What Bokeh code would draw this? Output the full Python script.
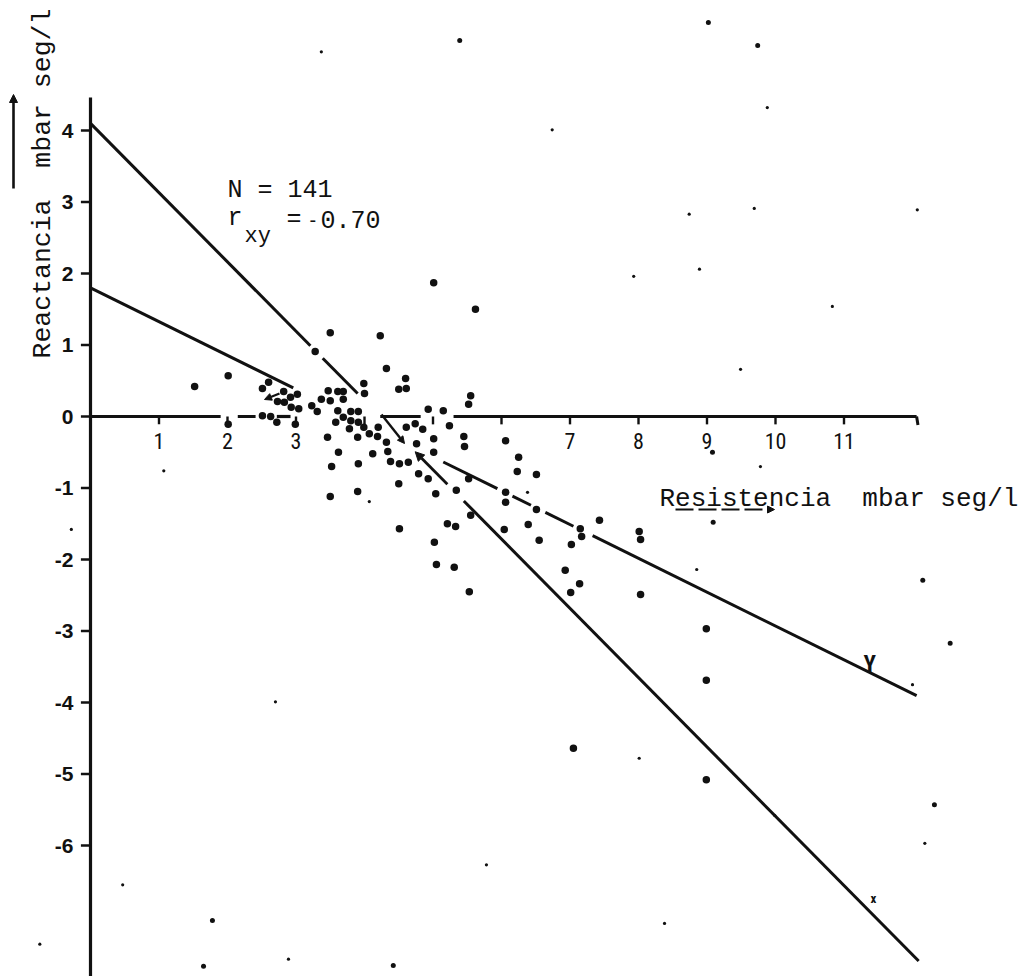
import numpy as np
from bokeh.plotting import figure
from bokeh.models import Range1d, Arrow, NormalHead
from bokeh.core.properties import value
from bokeh.embed import file_html
from bokeh.resources import INLINE

# ---------------- data ----------------
# Resistencia (x) / Reactancia (y), mbar seg/l
res_large = [5.01, 5.62, 3.50, 3.28, 4.23, 4.32, 4.60, 4.50, 4.61, 2.01, 1.52, 3.99, 4.00,
             2.60, 2.51, 2.82, 3.02, 3.47, 3.61, 3.69, 2.73, 2.83, 2.92, 3.37, 3.50, 3.69,
             2.93, 3.04, 3.23, 3.31, 3.61, 3.80, 3.91, 2.51, 2.63, 2.72, 2.01, 2.99, 3.58,
             3.69, 3.80, 3.91, 3.78, 3.99, 4.07, 3.90, 3.46, 3.62, 4.12, 3.52, 3.91, 5.52,
             5.55, 4.93, 5.15, 4.20, 4.19, 4.61, 4.74, 4.85, 5.24, 5.01, 4.32, 4.76, 5.45,
             5.46, 6.06, 4.34, 4.38, 4.51, 4.64, 5.01, 4.79, 4.93, 6.25, 6.23, 6.51, 4.50,
             5.04, 5.34, 3.90, 3.50, 5.52, 6.06, 6.06, 6.51, 5.55, 5.21, 5.33, 6.04, 6.39,
             6.55, 7.15, 7.17, 7.02, 7.43, 4.51, 5.02, 5.05, 5.31, 5.53, 6.93, 7.14, 7.01,
             8.01, 8.03, 8.03, 8.99, 8.99, 7.05, 8.99]
rea_large = [1.87, 1.50, 1.17, 0.91, 1.13, 0.67, 0.53, 0.38, 0.39, 0.57, 0.42, 0.46, 0.32,
             0.48, 0.39, 0.35, 0.31, 0.36, 0.35, 0.35, 0.21, 0.20, 0.27, 0.24, 0.22, 0.24,
             0.13, 0.11, 0.15, 0.07, 0.08, 0.07, 0.07, 0.01, 0.00, -0.08, -0.11, -0.11, -0.08,
             -0.01, -0.06, -0.08, -0.17, -0.15, -0.24, -0.29, -0.29, -0.50, -0.52, -0.70, -0.66, 0.17,
             0.29, 0.10, 0.08, -0.15, -0.28, -0.15, -0.10, -0.18, -0.13, -0.31, -0.36, -0.38, -0.28,
             -0.42, -0.34, -0.49, -0.63, -0.66, -0.64, -0.50, -0.80, -0.87, -0.57, -0.77, -0.81, -0.94,
             -1.08, -1.03, -1.05, -1.12, -0.87, -1.06, -1.20, -1.30, -1.38, -1.50, -1.54, -1.58, -1.51,
             -1.73, -1.57, -1.68, -1.79, -1.45, -1.57, -1.76, -2.07, -2.11, -2.45, -2.15, -2.34, -2.46,
             -1.61, -1.72, -2.49, -2.97, -3.69, -4.64, -5.08]

res_medium = [9.09, 9.08, 12.15, 12.55, 12.32, 1.65, 4.42, 1.78, 5.39, 9.02, 9.74]
rea_medium = [-1.48, -0.50, -2.29, -3.17, -5.43, -7.69, -7.68, -7.05, 5.26, 5.51, 5.19]

res_small = [6.38, 4.07, 8.85, 9.78, 9.49, 9.99, 0.47, 2.89, 5.78, 2.70, 8.01, 8.38, 12.00,
             12.18, -0.74, -0.28, 1.07, 3.37, 9.88, 8.74, 12.07, 7.93, 8.89, 10.83, 6.74, 9.69]
rea_small = [-1.06, -1.19, -2.14, -0.70, 0.66, -5.58, -6.55, -7.59, -6.27, -3.99, -4.78, -7.09, -3.75,
             -5.97, -7.38, -1.58, -0.76, 5.10, 4.32, 2.83, 2.89, 1.96, 2.06, 1.54, 4.01, 2.91]

# regression lines
reg_y_intercept, reg_y_slope = 1.80, -0.473   # Reactancia on Resistencia  ("y")
reg_x_intercept, reg_x_slope = 4.10, -0.969   # Resistencia on Reactancia  ("x")

n_obs = "N = 141"
r_value = "0.70"

x_ticks = [1, 2, 3, 4, 5, 6, 7, 8, 9, 10, 11]
x_tick_labels = ["1", "2", "3", "", "", "", "7", "8", "9", "10", "11"]
y_ticks = [4, 3, 2, 1, 0, -1, -2, -3, -4, -5, -6]
y_tick_labels = ["4", "3", "2", "1", "0", "-1", "-2", "-3", "-4", "-5", "-6"]

NB = "\u00a0"  # keeps the double space visible in SVG text
x_title = "Resistencia" + NB + " mbar seg/l"
y_title = "Reactancia" + NB + " mbar seg/l"

# ---------------- layout helpers (pixel -> data) ----------------
X0, SX = 90.0, 68.5
Y0, SY = 416.0, 71.5
W, H = 1021, 976


def dx(px):
    return (px - X0) / SX


def dy(py):
    return (Y0 - py) / SY


INK = "#111111"
MONO = value("Liberation Mono")
NARROW = value("'Liberation Sans Narrow', 'Roboto Condensed', 'DejaVu Sans Condensed', Roboto")
SANS = value("Liberation Sans")

p = figure(width=W, height=H, output_backend="svg", toolbar_location=None,
           x_range=Range1d(dx(0), dx(W)), y_range=Range1d(dy(H), dy(0)),
           x_axis_location=None, y_axis_location=None, min_border=0,
           outline_line_color=None, background_fill_color="white",
           border_fill_color="white")
p.grid.visible = False

# ---------------- axes drawn by hand (like the original) ----------------
# vertical axis
p.segment(x0=[0], y0=[dy(H) - 0.1], x1=[0], y1=[dy(97)], line_width=3.2, line_color=INK)
p.segment(x0=[-0.14] * len(y_ticks), y0=y_ticks, x1=[0] * len(y_ticks), y1=y_ticks,
          line_width=2.4, line_color=INK)
p.text(x=[dx(73)] * len(y_ticks), y=y_ticks, text=y_tick_labels, text_font=SANS,
       text_font_style="bold", text_font_size="21px", text_align="right",
       text_baseline="middle", text_color=INK)

# horizontal axis (broken where the cloud of points lies)
axis_pieces = [(0.0, 1.90), (2.15, 2.41), (2.72, 2.92), (4.23, 4.82), (5.30, 12.06)]
p.multi_line(xs=[[a, b] for a, b in axis_pieces], ys=[[0, 0] for _ in axis_pieces],
             line_width=3.2, line_color=INK)
p.segment(x0=[12.06], y0=[0], x1=[12.08], y1=[-0.12], line_width=3, line_color=INK)
p.segment(x0=x_ticks, y0=[0] * len(x_ticks), x1=x_ticks, y1=[-0.11] * len(x_ticks),
          line_width=2.4, line_color=INK)
p.text(x=x_ticks, y=[dy(432)] * len(x_ticks), text=x_tick_labels, text_font=NARROW,
       text_font_size="22px", text_align="center", text_baseline="top", text_color=INK)

# ---------------- regression lines ----------------
steep_pieces = [(0.0, 3.21), (3.39, 3.90), (5.45, 12.09)]
shallow_pieces = [(0.0, 2.96), (5.15, 5.94), (6.16, 6.43), (6.64, 7.05), (7.33, 12.06)]
p.multi_line(xs=[[a, b] for a, b in steep_pieces],
             ys=[[reg_x_intercept + reg_x_slope * a, reg_x_intercept + reg_x_slope * b]
                 for a, b in steep_pieces], line_width=3, line_color=INK)
p.multi_line(xs=[[a, b] for a, b in shallow_pieces],
             ys=[[reg_y_intercept + reg_y_slope * a, reg_y_intercept + reg_y_slope * b]
                 for a, b in shallow_pieces], line_width=3, line_color=INK)
# arrowed piece of the steep line
p.add_layout(Arrow(x_start=5.21, y_start=reg_x_intercept + reg_x_slope * 5.21,
                   x_end=4.74, y_end=reg_x_intercept + reg_x_slope * 4.74,
                   line_width=2.8, line_color=INK,
                   end=NormalHead(size=9, fill_color=INK, line_color=INK)))
# small hand-drawn arrows in the cloud
p.add_layout(Arrow(x_start=dx(381), y_start=dy(414), x_end=dx(404), y_end=dy(443),
                   line_width=2.4, line_color=INK,
                   end=NormalHead(size=7, fill_color=INK, line_color=INK)))
p.add_layout(Arrow(x_start=dx(279), y_start=dy(393), x_end=dx(264), y_end=dy(399),
                   line_width=2.4, line_color=INK,
                   end=NormalHead(size=7, fill_color=INK, line_color=INK)))

# ---------------- points ----------------
p.scatter(res_large, rea_large, size=7.5, marker="circle", fill_color=INK, line_color=None)
p.scatter(res_medium, rea_medium, size=5, marker="circle", fill_color=INK, line_color=None)
p.scatter(res_small, rea_small, size=3.2, marker="circle", fill_color=INK, line_color=None)

# ---------------- line labels ----------------
p.text(x=[dx(863)], y=[dy(664)], text=["Y"], text_font=NARROW, text_font_size="23px",
       text_font_style="bold", text_align="left", text_baseline="alphabetic", text_color=INK)
p.text(x=[dx(870)], y=[dy(898)], text=["x"], text_font=NARROW, text_font_size="13px",
       text_font_style="bold", text_align="left", text_baseline="alphabetic", text_color=INK)

# ---------------- statistics ----------------
p.text(x=[dx(227)], y=[dy(190)], text=[n_obs], text_font=MONO, text_font_size="25px",
       text_align="left", text_baseline="alphabetic", text_color=INK)
p.text(x=[dx(227)], y=[dy(218)], text=["r"], text_font=MONO, text_font_size="25px",
       text_align="left", text_baseline="alphabetic", text_color=INK)
p.text(x=[dx(244)], y=[dy(236)], text=["xy"], text_font=MONO, text_font_size="22px",
       text_align="left", text_baseline="alphabetic", text_color=INK)
p.text(x=[dx(286)], y=[dy(219)], text=["="], text_font=MONO, text_font_size="25px",
       text_align="left", text_baseline="alphabetic", text_color=INK)
p.text(x=[dx(309)], y=[dy(219)], text=["-"], text_font=SANS, text_font_size="20px",
       text_align="left", text_baseline="alphabetic", text_color=INK)
p.text(x=[dx(320)], y=[dy(219)], text=[r_value], text_font=MONO, text_font_size="25px",
       text_align="left", text_baseline="alphabetic", text_color=INK)

# ---------------- axis titles ----------------
p.text(x=[dx(659)], y=[dy(498)], text=[x_title], text_font=MONO, text_font_size="26px",
       text_align="left", text_baseline="alphabetic", text_color=INK)
p.add_layout(Arrow(x_start=dx(675), y_start=dy(509), x_end=dx(774), y_end=dy(509),
                   line_width=2, line_color=INK, line_dash="18 5",
                   end=NormalHead(size=7, fill_color=INK, line_color=INK)))

p.text(x=[dx(42)], y=[dy(358)], text=[y_title], text_font=MONO, text_font_size="26.5px",
       angle=np.pi / 2, text_align="left", text_baseline="alphabetic", text_color=INK)
p.add_layout(Arrow(x_start=dx(13), y_start=dy(188), x_end=dx(13), y_end=dy(94),
                   line_width=2.6, line_color=INK,
                   end=NormalHead(size=8, fill_color=INK, line_color=INK)))

open("out.html", "w").write(file_html(p, INLINE))
